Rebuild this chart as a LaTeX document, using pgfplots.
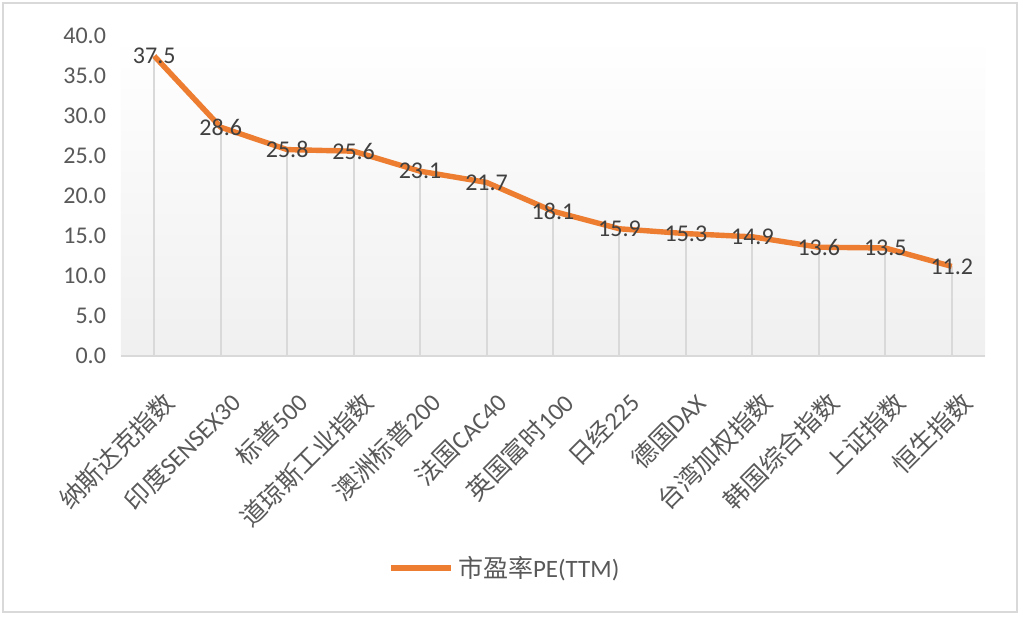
\documentclass[border=0pt]{standalone}
\usepackage{fontspec}
\setmainfont{Carlito}
\newfontfamily\cjk{Noto Sans CJK SC}
\usepackage{pgfplots}
\pgfplotsset{compat=1.18}
\definecolor{peorange}{HTML}{ED7D31}
\definecolor{framegray}{HTML}{D9D9D9}
\definecolor{ticktext}{HTML}{595959}
\definecolor{labeltext}{HTML}{404040}
\begin{document}
\begin{tikzpicture}
\useasboundingbox (0pt,0pt) rectangle (511.5pt,308.5pt);
\fill[white] (0pt,0pt) rectangle (511.5pt,308.5pt);
\draw[framegray, line width=1pt] (1.5pt,2.5pt) rectangle (508.5pt,307pt);
\begin{axis}[
    at={(60.5pt,130.5pt)}, anchor=south west,
    scale only axis,
    width=432pt, height=160pt,
    xmin=-0.5, xmax=12.5,
    ymin=0, ymax=40,
    ytick={0,5,...,40},
    xtick={0,...,12},
    xticklabels={{\cjk 纳斯达克指数},{\cjk 印度}SENSEX30,{\cjk 标普}500,{\cjk 道琼斯工业指数},{\cjk 澳洲标普}200,{\cjk 法国}CAC40,{\cjk 英国富时}100,{\cjk 日经}225,{\cjk 德国}DAX,{\cjk 台湾加权指数},{\cjk 韩国综合指数},{\cjk 上证指数},{\cjk 恒生指数}},
    axis x line=bottom, axis y line=left,
    x axis line style={draw=framegray, line width=1pt, -},
    y axis line style={draw=none},
    major tick length=0pt,
    axis background/.style={top color=white, bottom color=black!6},
    yticklabel style={font=\fontsize{12}{12}\selectfont, text=ticktext, xshift=-4pt,
        /pgf/number format/.cd, fixed, fixed zerofill, precision=1, assume math mode=true},
    xticklabel style={font=\fontsize{12.5}{12.5}\selectfont, text=ticktext, rotate=45, anchor=north east, xshift=-6pt, yshift=-11pt},
    legend style={at={(0.4456,-0.6625)}, anchor=center, draw=none, fill=none,
        font=\fontsize{12.5}{12.5}\selectfont, text=ticktext},
    legend image code/.code={\draw[#1] (0pt,0pt) -- (30pt,0pt);},
  ]
\addplot[ycomb, framegray, line width=1pt, forget plot] coordinates {
  (0,37.5) (1,28.6) (2,25.8) (3,25.6) (4,23.1) (5,21.7) (6,18.1)
  (7,15.9) (8,15.3) (9,14.9) (10,13.6) (11,13.5) (12,11.2)
};
\addplot[peorange, line width=2.7pt, line join=round, no markers,
    nodes near coords={\pgfmathprintnumber[fixed,fixed zerofill,precision=1,assume math mode=true]{\pgfplotspointmeta}},
    every node near coord/.append style={anchor=center, font=\fontsize{12}{12}\selectfont, text=labeltext}]
  coordinates {
  (0,37.5) (1,28.6) (2,25.8) (3,25.6) (4,23.1) (5,21.7) (6,18.1)
  (7,15.9) (8,15.3) (9,14.9) (10,13.6) (11,13.5) (12,11.2)
};
\addlegendentry{{\cjk 市盈率}PE(TTM)}
\end{axis}
\end{tikzpicture}
\end{document}
